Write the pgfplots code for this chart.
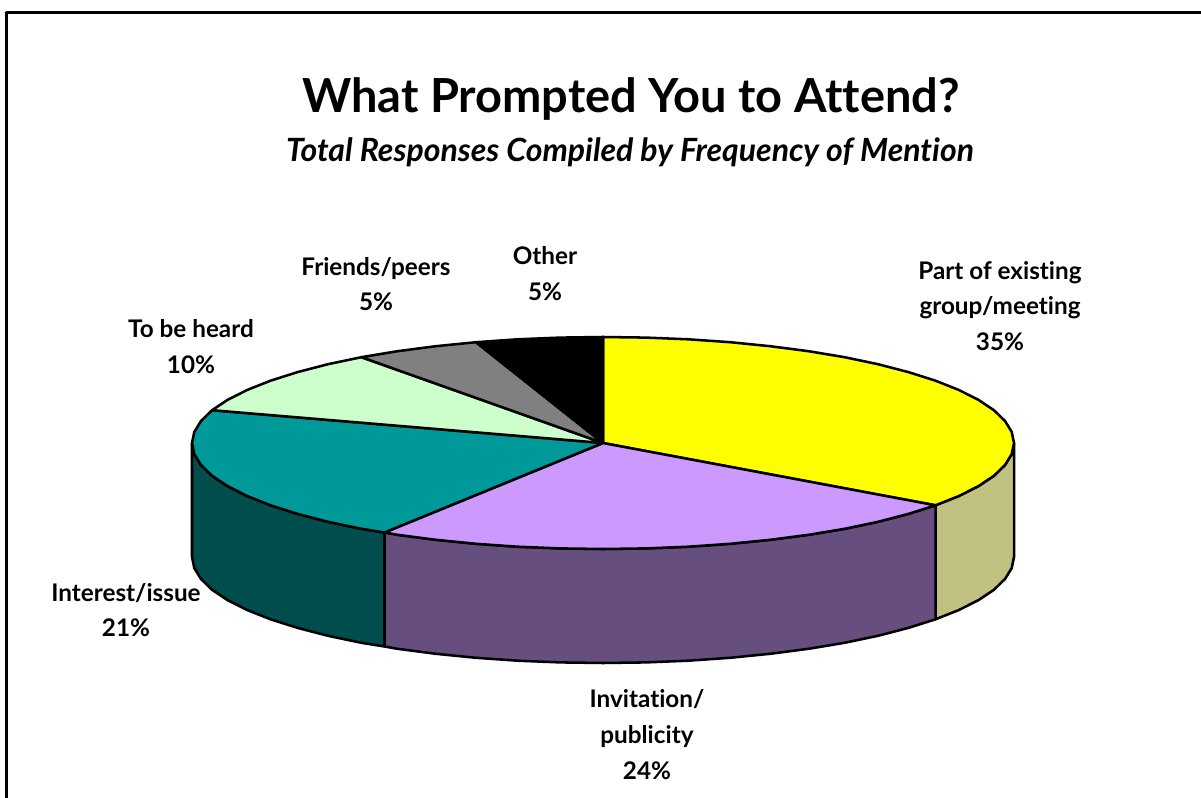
\documentclass[border=0pt]{standalone}
\usepackage{pgfplots}
\pgfplotsset{compat=1.18}
\usepackage{fontspec}
\setmainfont{Lato}[Ligatures=CommonOff]
\definecolor{cyellow}{HTML}{FFFF00}
\definecolor{cpurple}{HTML}{CC99FF}
\definecolor{cteal}{HTML}{009999}
\definecolor{cmint}{HTML}{CCFFCC}
\definecolor{cgrey}{HTML}{808080}
\definecolor{dyellow}{HTML}{C0C080}
\definecolor{dpurple}{HTML}{664E7F}
\definecolor{dteal}{HTML}{004D4D}
\begin{document}
\begin{tikzpicture}
\useasboundingbox (0,0) rectangle (900.75pt,598.5pt);
\begin{axis}[
  at={(0,0)},anchor=south west,
  scale only axis,width=900.75pt,height=598.5pt,
  xmin=0,xmax=1201,ymin=0,ymax=798,y dir=reverse,
  hide axis,clip=false,
  every axis plot/.append style={line width=1.9pt,line join=round,mark=none,draw=black},
]
% frame
\addplot[line width=1.7pt,draw=black] coordinates {(6.5,798) (6.5,12.5) (1201,12.5)};
% sides
\addplot[fill=dyellow] coordinates {(1014,443) (1011.7,454.1) (1005,465) (993.9,475.8) (978.5,486.1) (958.9,496) (935.5,505.3)
 (935.5,619.3) (958.9,610) (978.5,600.1) (993.9,589.8) (1005,579) (1011.7,568.1) (1014,557) (1014,443)};
\addplot[fill=dpurple] coordinates {(935.5,505.3) (908.4,513.9) (878,521.8) (844.6,528.8) (808.5,534.8) (770.2,539.8) (730,543.8) (688.4,546.7) (646,548.4) (603,549) (560,548.4) (517.6,546.7) (476,543.8) (435.8,539.8) (397.5,534.8) (384.5,532.5)
 (384.5,646.5) (397.5,648.8) (435.8,653.8) (476,657.8) (517.6,660.7) (560,662.4) (603,663) (646,662.4) (688.4,660.7) (730,657.8) (770.2,653.8) (808.5,648.8) (844.6,642.8) (878,635.8) (908.4,627.9) (935.5,619.3) (935.5,505.3)};
\addplot[fill=dteal] coordinates {(384.5,532.5) (361.4,528.8) (328,521.8) (297.6,513.9) (270.5,505.3) (247.1,496) (227.5,486.1) (212.1,475.8) (201,465) (194.3,454.1) (192,443)
 (192,557) (194.3,568.1) (201,579) (212.1,589.8) (227.5,600.1) (247.1,610) (270.5,619.3) (297.6,627.9) (328,635.8) (361.4,642.8) (384.5,646.5) (384.5,532.5)};
% top slices: 35, 24, 21, 10, 5, 5 per cent
\addplot[fill=cyellow] coordinates {(603,443) (603,337) (646,337.6) (688.4,339.3) (730,342.2) (770.2,346.2) (808.5,351.2) (844.6,357.2) (878,364.2) (908.4,372.1) (935.5,380.7) (958.9,390) (978.5,399.9) (993.9,410.2) (1005,421) (1011.7,431.9) (1014,443) (1011.7,454.1) (1005,465) (993.9,475.8) (978.5,486.1) (958.9,496) (935.5,505.3) (603,443)};
\addplot[fill=cpurple] coordinates {(603,443) (935.5,505.3) (908.4,513.9) (878,521.8) (844.6,528.8) (808.5,534.8) (770.2,539.8) (730,543.8) (688.4,546.7) (646,548.4) (603,549) (560,548.4) (517.6,546.7) (476,543.8) (435.8,539.8) (397.5,534.8) (384.5,532.5) (603,443)};
\addplot[fill=cteal] coordinates {(603,443) (384.5,532.5) (361.4,528.8) (328,521.8) (297.6,513.9) (270.5,505.3) (247.1,496) (227.5,486.1) (212.1,475.8) (201,465) (194.3,454.1) (192,443) (194.3,431.9) (201,421) (212.1,410.2) (603,443)};
\addplot[fill=cmint] coordinates {(603,443) (212.1,410.2) (227.5,399.9) (247.1,390) (270.5,380.7) (297.6,372.1) (328,364.2) (361.4,357.2) (603,443)};
\addplot[fill=cgrey] coordinates {(603,443) (361.4,357.2) (397.5,351.2) (435.8,346.2) (476,342.2) (603,443)};
\addplot[fill=black] coordinates {(603,443) (476,342.2) (517.6,339.3) (560,337.6) (603,337) (603,443)};
% texts
\node[font=\fontsize{35.2pt}{40pt}\selectfont\bfseries,anchor=base] at (axis cs:631,113) {What Prompted You to Attend?};
\node[font=\fontsize{24pt}{28pt}\selectfont\bfseries\itshape,anchor=base] at (axis cs:630,162) {Total Responses Compiled by Frequency of Mention};
\tikzset{lab/.style={font=\fontsize{18.2pt}{26.8pt}\selectfont\bfseries,align=center,anchor=north}}
\node[lab] at (axis cs:1000,256.5) {Part of existing\\group/meeting\\35\%};
\node[lab] at (axis cs:545,242) {Other\\5\%};
\node[lab] at (axis cs:376,252.5) {Friends/peers\\5\%};
\node[lab] at (axis cs:191,315) {To be heard\\10\%};
\node[lab] at (axis cs:126,578.5) {Interest/issue\\21\%};
\node[lab] at (axis cs:647,685) {Invitation/\\publicity\\24\%};
\end{axis}
\end{tikzpicture}
\end{document}
